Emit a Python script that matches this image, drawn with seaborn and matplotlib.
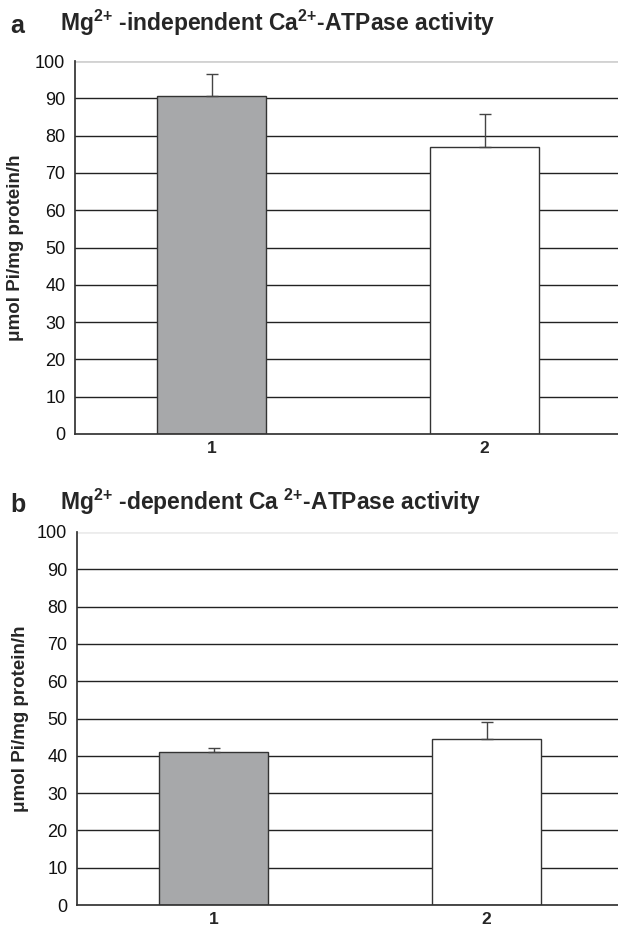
import matplotlib
matplotlib.use("Agg")
import matplotlib.pyplot as plt
import seaborn as sns
import pandas as pd
from matplotlib.ticker import FixedLocator

# Data
groups = ["1", "2"]
indep_mean = [90.6, 76.9]
indep_sd = [6.0, 8.9]
dep_mean = [41.0, 44.5]
dep_sd = [1.2, 4.5]
bar_colors = ["#a7a8aa", "#ffffff"]

sns.set_theme(style="white")
plt.rcParams["font.family"] = ["Liberation Sans", "DejaVu Sans"]
plt.rcParams["mathtext.fontset"] = "custom"
plt.rcParams["mathtext.rm"] = "Liberation Sans"
plt.rcParams["mathtext.bf"] = "Liberation Sans:bold"

W, H = 618, 926
fig = plt.figure(figsize=(W / 100, H / 100), dpi=100)
ax_a = fig.add_axes([75 / W, 1 - 434 / H, 546 / W, 373 / H])
ax_b = fig.add_axes([77 / W, 1 - 905 / H, 546 / W, 373 / H])

sup = "$^{\\mathbf{2}\\mathbf{+}}$"
panels = [
    (ax_a, indep_mean, indep_sd, "a", "Mg" + sup + " -independent Ca" + sup + "-ATPase activity",
     31, "#d2d2d2", 24),
    (ax_b, dep_mean, dep_sd, "b", "Mg" + sup + " -dependent Ca " + sup + "-ATPase activity",
     510, "#ececec", 29),
]

for ax, means, sds, letter, title, ty, topcol, ylx in panels:
    df = pd.DataFrame({"group": groups, "value": means})
    # gridlines behind bars
    for v in range(10, 100, 10):
        ax.axhline(v, color="#222222", lw=1.0, zorder=0)
    ax.axhline(100, color=topcol, lw=2.0, zorder=0)
    sns.barplot(data=df, x="group", y="value", hue="group", palette=bar_colors,
                width=0.4, edgecolor="#333333", linewidth=1.0, errorbar=None,
                legend=False, ax=ax, zorder=2)
    ax.errorbar(range(len(groups)), means, yerr=[[0] * len(sds), sds], fmt="none",
                ecolor="#444444", elinewidth=1.0, capsize=4, capthick=1.0, zorder=3)
    ax.set_xlim(-0.5, 1.5)
    ax.set_ylim(0, 100)
    ax.set_yticks(range(0, 101, 10))
    ax.tick_params(axis="y", which="major", direction="out", length=4, width=1,
                   color="#333333", labelsize=13, pad=3, labelcolor="#111111")
    ax.tick_params(axis="x", which="major", length=0, labelsize=12.5, pad=5)
    ax.xaxis.set_minor_locator(FixedLocator([-0.5, 0.5, 1.5]))
    ax.tick_params(axis="x", which="minor", direction="out", length=4, width=1, color="#333333")
    for lab in ax.get_xticklabels():
        lab.set_fontweight("bold")
    ax.set_xlabel("")
    ax.set_ylabel("μmol Pi/mg protein/h", fontsize=13.5, fontweight="bold")
    # label coords refer to the baseline side of the rotated label
    ax.yaxis.set_label_coords((ylx - ax.get_position().x0 * W) / 546, 0.5)
    for s in ["top", "right"]:
        ax.spines[s].set_visible(False)
    ax.spines["left"].set_color("#333333")
    ax.spines["bottom"].set_color("#333333")
    fig.text(10 / W, 1 - (ty + 2) / H, letter, fontsize=18, fontweight="bold", va="baseline")
    fig.text(60 / W, 1 - ty / H, title, fontsize=16.5, fontweight="bold", va="baseline")

fig.savefig("out.png", dpi=100)
